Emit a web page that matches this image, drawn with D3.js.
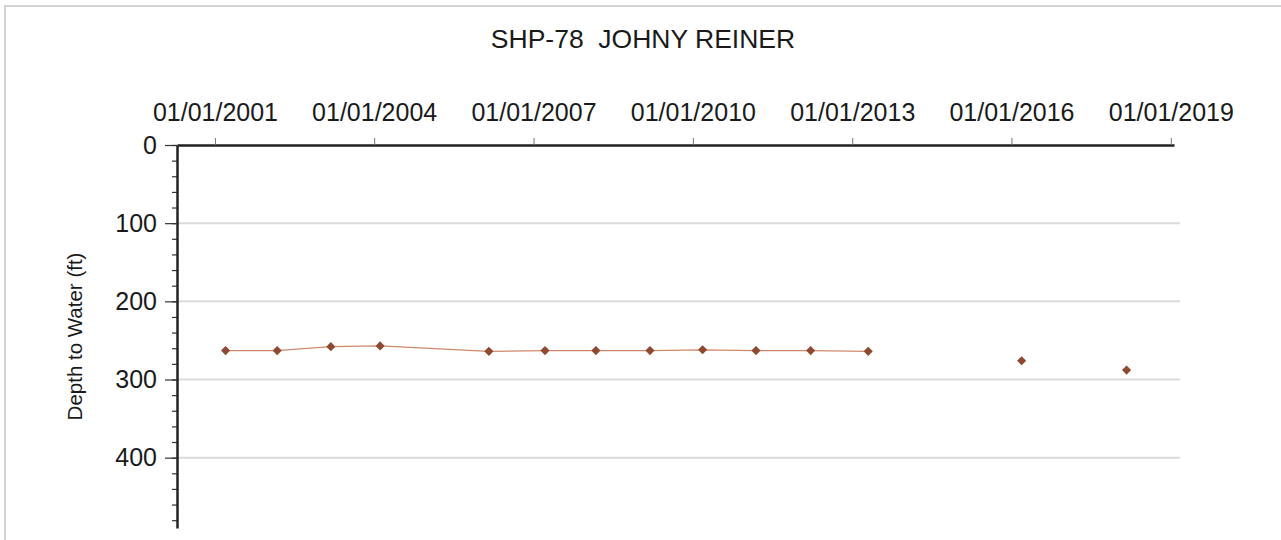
<!DOCTYPE html>
<html>
<head>
<meta charset="utf-8">
<script src="https://cdn.jsdelivr.net/npm/d3@7"></script>
<style>
  html, body { margin: 0; padding: 0; background: #ffffff; }
  svg { display: block; font-family: Arial, "Liberation Sans", sans-serif; }
</style>
</head>
<body>
<svg id="chart" width="1281" height="540"></svg>
<script>
// Well SHP-78 water-level record
const chartTitle = "SHP-78\u00a0\u00a0JOHNY REINER";
const yLabel = "Depth to Water (ft)";
const sampleDates = [
  "2001-03-15", "2002-03-05", "2003-03-09", "2004-02-11",
  "2006-02-28", "2007-03-21", "2008-03-05", "2009-03-12",
  "2010-03-09", "2011-03-11", "2012-03-21", "2013-04-21",
  "2016-03-11", "2018-03-03"
];
const depthToWater = [263, 263, 258, 257, 264, 263, 263, 263, 262, 263, 263, 264, 276, 288];
// readings sharing a run number are joined by a line
const runNumber = [1, 1, 1, 1, 1, 1, 1, 1, 1, 1, 1, 1, 2, 3];
const xTickDates = ["2001-01-01", "2004-01-01", "2007-01-01", "2010-01-01", "2013-01-01", "2016-01-01", "2019-01-01"];
const yTicks = [0, 100, 200, 300, 400];
const yGrid = [100, 200, 300, 400];
const yMinorTicks = d3.range(0, 490, 20);
const xDomain = ["2000-04-15", "2019-01-23"];
const yDomain = [0, 490];

const parse = d3.utcParse("%Y-%m-%d");
const fmt = d3.utcFormat("%m/%d/%Y");
const data = sampleDates.map((d, i) => ({ date: parse(d), depth: depthToWater[i], run: runNumber[i] }));

const svg = d3.select("#chart");
const plotLeft = 177, plotRight = 1174, plotTop = 145, plotBottom = 528;

// outer frame (top and left edges visible)
svg.append("path")
  .attr("d", "M5,540 V6 H1281")
  .attr("fill", "none").attr("stroke", "#d3d3d3").attr("stroke-width", 2);

const x = d3.scaleUtc().domain(xDomain.map(parse)).range([plotLeft, plotRight]);
const y = d3.scaleLinear().domain(yDomain).range([plotTop, plotBottom]);

// title
svg.append("text")
  .attr("x", 643).attr("y", 48)
  .attr("text-anchor", "middle")
  .attr("font-size", 26.5).attr("fill", "#1a1a1a")
  .text(chartTitle);

// horizontal gridlines
svg.append("g").selectAll("line").data(yGrid).join("line")
  .attr("x1", plotLeft + 1).attr("x2", 1180)
  .attr("y1", d => y(d)).attr("y2", d => y(d))
  .attr("stroke", "#dadada").attr("stroke-width", 2);

// top date axis
const xAxis = d3.axisTop(x)
  .tickValues(xTickDates.map(parse))
  .tickFormat(fmt)
  .tickSize(7).tickSizeOuter(0).tickPadding(17);
const gx = svg.append("g").attr("transform", `translate(0,${plotTop})`).call(xAxis);
gx.select(".domain").attr("stroke", "#222").attr("stroke-width", 2.5);
gx.selectAll(".tick line").attr("stroke", "#777").attr("stroke-width", 1);
gx.selectAll(".tick text").attr("font-size", 25).attr("fill", "#1a1a1a")
  .attr("font-family", "Arial, 'Liberation Sans', sans-serif");

// left depth axis: minor ticks then major ticks with labels
const gyMinor = svg.append("g").attr("transform", `translate(${plotLeft},0)`)
  .call(d3.axisLeft(y).tickValues(yMinorTicks).tickSize(5).tickFormat(""));
gyMinor.select(".domain").remove();
gyMinor.selectAll(".tick line").attr("stroke", "#333").attr("stroke-width", 1.2);

const gy = svg.append("g").attr("transform", `translate(${plotLeft},0)`)
  .call(d3.axisLeft(y).tickValues(yTicks).tickSize(12).tickPadding(8).tickSizeOuter(0));
gy.select(".domain").attr("stroke", "#222").attr("stroke-width", 2.5);
gy.selectAll(".tick line").attr("stroke", "#333").attr("stroke-width", 1.2);
gy.selectAll(".tick text").attr("font-size", 25).attr("fill", "#1a1a1a")
  .attr("font-family", "Arial, 'Liberation Sans', sans-serif");

// y-axis title
svg.append("text")
  .attr("transform", `translate(82,${(plotTop + plotBottom) / 2}) rotate(-90)`)
  .attr("text-anchor", "middle")
  .attr("font-size", 20.5).attr("fill", "#1a1a1a")
  .text(yLabel);

// measurement line, one path per run of joined readings
const runs = d3.groups(data, d => d.run).map(([, pts]) => pts).filter(pts => pts.length > 1);
const line = d3.line().x(d => x(d.date)).y(d => y(d.depth));
svg.append("g").selectAll("path").data(runs).join("path")
  .attr("d", line)
  .attr("fill", "none").attr("stroke", "#d0886c").attr("stroke-width", 1.2);

// markers
const marker = d3.symbol().type(d3.symbolSquare).size(42);
svg.append("g").selectAll("path").data(data).join("path")
  .attr("d", marker)
  .attr("transform", d => `translate(${x(d.date)},${y(d.depth)}) rotate(45)`)
  .attr("fill", "#8e4a30");
</script>
</body>
</html>
